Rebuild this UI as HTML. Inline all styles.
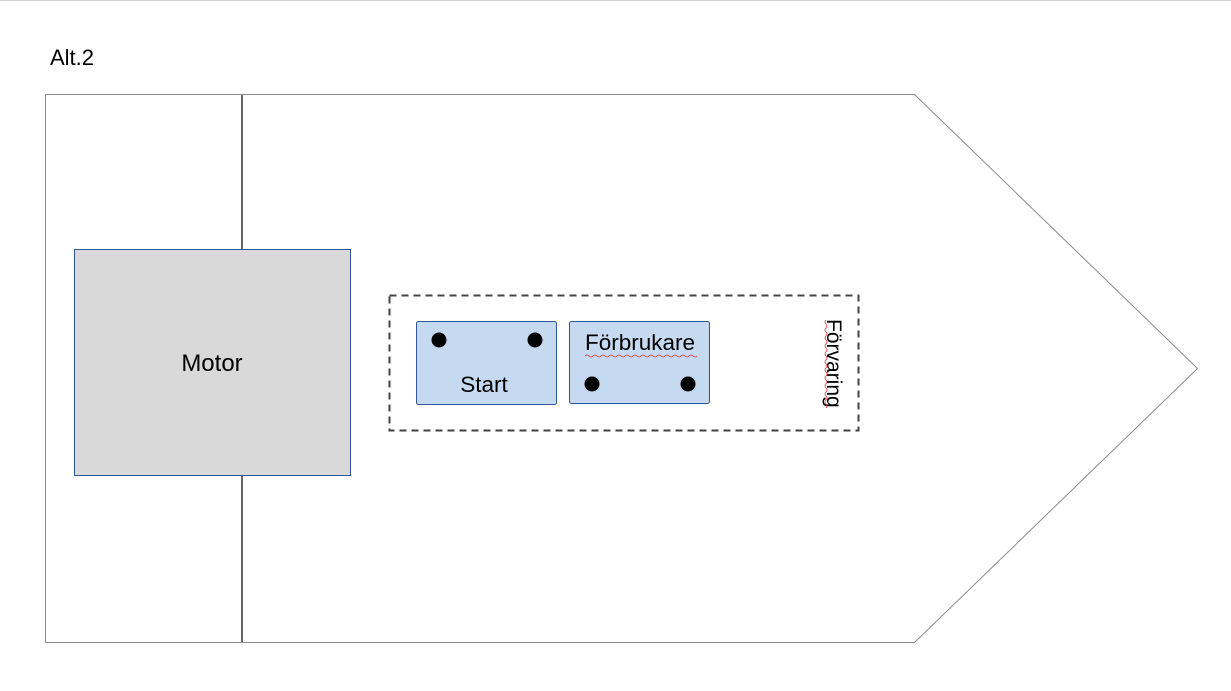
<!DOCTYPE html>
<html><head><meta charset="utf-8"><style>html,body{margin:0;padding:0;background:#fff;width:1231px;height:691px;overflow:hidden}</style></head>
<body>
<svg width="1231" height="691" viewBox="0 0 1231 691" xmlns="http://www.w3.org/2000/svg" font-family="Liberation Sans, sans-serif">
<line x1="0" y1="0.5" x2="1231" y2="0.5" stroke="#d0d0d0"/>
<text x="50" y="65" font-size="22" fill="#000">Alt.2</text>
<polygon points="45.5,94.5 914.5,94.5 1197.5,368.5 914.5,642.5 45.5,642.5" fill="#fff" stroke="#8a8a8a" stroke-width="1"/>
<line x1="242" y1="95" x2="242" y2="642" stroke="#333" stroke-width="1.5"/>
<rect x="74.5" y="249.5" width="276" height="226" fill="#d9d9d9" stroke="#2f5597" stroke-width="1"/>
<text x="212" y="371" font-size="24" text-anchor="middle">Motor</text>
<rect x="389.5" y="295.5" width="469" height="135" fill="none" stroke="#444" stroke-width="2" stroke-dasharray="7,5"/>
<rect x="416.5" y="321.5" width="140" height="83" rx="2" fill="#c5d9f0" stroke="#2f5597"/>
<circle cx="439" cy="340" r="7.5"/><circle cx="535" cy="340" r="7.5"/>
<text x="484" y="392" font-size="22.5" text-anchor="middle">Start</text>
<rect x="569.5" y="321.5" width="140" height="82" rx="2" fill="#c5d9f0" stroke="#2f5597"/>
<text x="640" y="350" font-size="22.5" text-anchor="middle">Förbrukare</text>
<path d="M585 356 q2 -2 4 0 t4 0 t4 0 t4 0 t4 0 t4 0 t4 0 t4 0 t4 0 t4 0 t4 0 t4 0 t4 0 t4 0 t4 0 t4 0 t4 0 t4 0 t4 0 t4 0 t4 0 t4 0 t4 0 t4 0 t4 0 t4 0 t4 0 t4 0" stroke="#e03030" fill="none" stroke-width="0.8"/>
<circle cx="592" cy="384" r="7.5"/><circle cx="688" cy="384" r="7.5"/>
<text transform="translate(827,319) rotate(90)" font-size="21">Förvaring</text>
<path d="M826 320 q-2 2 0 4 t0 4 t0 4 t0 4 t0 4 t0 4 t0 4 t0 4 t0 4 t0 4 t0 4 t0 4 t0 4 t0 4 t0 4 t0 4 t0 4 t0 4 t0 4 t0 4 t0 4 t0 4" stroke="#e03030" fill="none" stroke-width="0.8"/>
</svg>
</body></html>
